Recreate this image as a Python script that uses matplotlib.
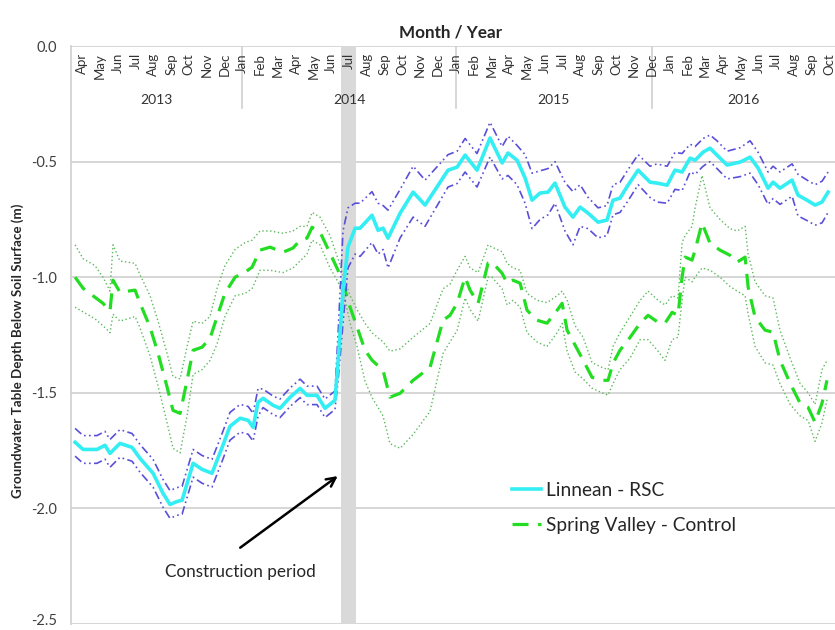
import matplotlib
matplotlib.use("Agg")
from matplotlib import pyplot as plt
from matplotlib.lines import Line2D
from matplotlib.transforms import ScaledTranslation

plt.rcParams['font.family'] = ['Lato', 'DejaVu Sans']

# x = months since Apr 2013 (Apr 2013 = 0), y = depth below soil surface (m)
months = ['Apr', 'May', 'Jun', 'Jul', 'Aug', 'Sep', 'Oct', 'Nov', 'Dec',
          'Jan', 'Feb', 'Mar', 'Apr', 'May', 'Jun', 'Jul', 'Aug', 'Sep', 'Oct', 'Nov', 'Dec',
          'Jan', 'Feb', 'Mar', 'Apr', 'May', 'Jun', 'Jul', 'Aug', 'Sep', 'Oct', 'Nov', 'Dec',
          'Jan', 'Feb', 'Mar', 'Apr', 'May', 'Jun', 'Jul', 'Aug', 'Sep', 'Oct']
years = ['2013', '2014', '2015', '2016']
year_breaks = [9, 21, 32]

# Linnean - RSC
lin_x = [-0.39, 0.06, 0.84, 1.29, 1.57, 2.13, 2.81, 3.26, 3.99, 4.55, 4.94, 5.34, 5.62, 6.24, 6.74,
         7.30, 7.87, 8.31, 8.88, 9.33, 9.61, 9.89, 10.17, 10.73, 11.12, 11.69, 12.25, 12.64, 13.20,
         13.65, 14.21, 14.38, 14.66, 14.94, 15.34, 15.62, 16.29, 16.63, 16.91, 17.19, 17.87, 18.60,
         19.27, 20.56, 21.07, 21.52, 22.19, 22.92, 23.60, 23.93, 24.44, 24.89, 25.28, 25.73, 26.18,
         26.57, 27.13, 27.58, 27.98, 28.43, 28.99, 29.49, 29.83, 30.22, 30.67, 31.24, 31.91, 32.30,
         32.87, 33.31, 33.71, 34.16, 34.44, 34.89, 35.28, 35.67, 36.24, 36.97, 37.53, 37.98, 38.54,
         38.82, 39.21, 39.89, 40.22, 40.73, 41.18, 41.57, 41.91]
lin_mean = [-1.714, -1.745, -1.745, -1.727, -1.762, -1.719, -1.736, -1.784, -1.848, -1.935, -1.983,
            -1.970, -1.965, -1.805, -1.831, -1.848, -1.736, -1.645, -1.610, -1.619, -1.649, -1.541,
            -1.524, -1.554, -1.567, -1.519, -1.481, -1.511, -1.511, -1.567, -1.532, -1.372, -1.056,
            -0.870, -0.788, -0.788, -0.732, -0.797, -0.788, -0.831, -0.723, -0.632, -0.688, -0.537,
            -0.524, -0.472, -0.537, -0.398, -0.506, -0.463, -0.494, -0.571, -0.667, -0.636, -0.632,
            -0.593, -0.697, -0.740, -0.697, -0.723, -0.762, -0.753, -0.667, -0.658, -0.602, -0.537,
            -0.589, -0.593, -0.602, -0.537, -0.545, -0.485, -0.494, -0.459, -0.442, -0.472, -0.515,
            -0.502, -0.481, -0.528, -0.615, -0.589, -0.615, -0.580, -0.645, -0.667, -0.688, -0.675,
            -0.632]
lin_upper = [-1.654, -1.685, -1.685, -1.667, -1.702, -1.659, -1.676, -1.724, -1.788, -1.875, -1.923,
             -1.910, -1.905, -1.745, -1.771, -1.788, -1.676, -1.585, -1.550, -1.559, -1.589, -1.481,
             -1.484, -1.514, -1.527, -1.479, -1.441, -1.471, -1.471, -1.527, -1.492, -1.25, -0.80,
             -0.70, -0.68, -0.68, -0.63, -0.68, -0.69, -0.71, -0.62, -0.52, -0.58, -0.47,
             -0.455, -0.40, -0.465, -0.33, -0.435, -0.39, -0.43, -0.47, -0.55, -0.54, -0.53,
             -0.50, -0.59, -0.63, -0.60, -0.655, -0.70, -0.69, -0.60, -0.59, -0.535, -0.47,
             -0.52, -0.51, -0.52, -0.46, -0.465, -0.425, -0.435, -0.40, -0.385, -0.41, -0.455,
             -0.44, -0.41, -0.46, -0.545, -0.52, -0.545, -0.51, -0.555, -0.58, -0.60, -0.585,
             -0.545]
lin_lower = [-1.774, -1.805, -1.805, -1.787, -1.822, -1.779, -1.796, -1.844, -1.908, -1.995, -2.043,
             -2.030, -2.025, -1.865, -1.891, -1.908, -1.796, -1.705, -1.670, -1.679, -1.709, -1.601,
             -1.564, -1.594, -1.607, -1.559, -1.521, -1.551, -1.551, -1.607, -1.572, -1.45, -1.20,
             -0.96, -0.90, -0.91, -0.85, -0.90, -0.88, -0.96, -0.83, -0.74, -0.78, -0.61,
             -0.595, -0.545, -0.61, -0.48, -0.575, -0.56, -0.60, -0.68, -0.79, -0.75, -0.73,
             -0.68, -0.80, -0.86, -0.78, -0.79, -0.83, -0.82, -0.73, -0.72, -0.67, -0.60,
             -0.655, -0.675, -0.68, -0.62, -0.625, -0.545, -0.555, -0.52, -0.50, -0.53, -0.575,
             -0.565, -0.55, -0.60, -0.685, -0.66, -0.685, -0.65, -0.735, -0.755, -0.775, -0.765,
             -0.72]

# Spring Valley - Control
sv_x = [-0.39, 0.06, 0.73, 1.18, 1.57, 1.74, 2.13, 2.98, 3.26, 3.82, 4.27, 4.78, 5.11, 5.51, 5.90,
        6.24, 6.74, 7.19, 7.58, 8.03, 8.60, 9.16, 9.55, 10.00, 10.56, 11.29, 11.85, 12.25, 12.64,
        12.92, 13.37, 13.93, 14.38, 14.78, 15.06, 15.45, 15.90, 16.29, 16.91, 17.30, 17.87, 18.60,
        19.55, 20.28, 20.67, 21.07, 21.52, 21.80, 22.25, 22.81, 23.03, 23.60, 23.88, 24.21, 24.61,
        25.00, 25.56, 26.12, 26.69, 26.97, 27.25, 27.70, 28.15, 28.65, 29.21, 29.55, 29.83, 30.22,
        30.79, 31.35, 31.80, 32.36, 32.75, 33.15, 33.48, 33.71, 33.88, 34.27, 34.44, 34.83, 35.28,
        35.84, 36.40, 36.80, 37.25, 37.42, 37.81, 38.37, 38.82, 39.21, 39.78, 40.34, 40.79, 41.18,
        41.57, 41.85]
sv_mean = [-1.000, -1.048, -1.087, -1.113, -1.147, -1.013, -1.065, -1.056, -1.113, -1.216, -1.329,
           -1.476, -1.576, -1.589, -1.446, -1.316, -1.303, -1.264, -1.173, -1.069, -1.000, -0.978,
           -0.957, -0.883, -0.870, -0.892, -0.874, -0.840, -0.831, -0.784, -0.805, -0.896, -0.970,
           -1.056, -1.130, -1.216, -1.316, -1.359, -1.403, -1.519, -1.502, -1.446, -1.390, -1.186,
           -1.165, -1.113, -1.000, -1.056, -1.113, -0.939, -0.935, -0.983, -1.026, -1.013, -1.026,
           -1.143, -1.186, -1.199, -1.143, -1.113, -1.229, -1.294, -1.359, -1.433, -1.446, -1.446,
           -1.372, -1.316, -1.260, -1.199, -1.165, -1.195, -1.199, -1.152, -1.165, -1.000, -0.913,
           -0.926, -0.883, -0.766, -0.853, -0.883, -0.905, -0.935, -0.913, -1.043, -1.173, -1.229,
           -1.238, -1.359, -1.459, -1.545, -1.563, -1.628, -1.545, -1.446]
sv_upper = [-0.86, -0.92, -0.95, -1.00, -1.06, -0.86, -0.93, -0.94, -0.99, -1.08, -1.19,
            -1.33, -1.43, -1.44, -1.30, -1.19, -1.20, -1.17, -1.05, -0.95, -0.88, -0.85,
            -0.84, -0.80, -0.80, -0.81, -0.80, -0.78, -0.78, -0.72, -0.74, -0.82, -0.92,
            -1.02, -1.08, -1.14, -1.20, -1.24, -1.28, -1.32, -1.31, -1.26, -1.20, -1.05,
            -1.03, -0.97, -0.91, -0.96, -0.98, -0.86, -0.87, -0.89, -0.94, -0.96, -0.97,
            -1.07, -1.10, -1.11, -1.08, -1.06, -1.10, -1.21, -1.26, -1.37, -1.39, -1.40,
            -1.30, -1.24, -1.17, -1.10, -1.06, -1.10, -1.12, -1.08, -1.09, -0.85, -0.82,
            -0.78, -0.70, -0.56, -0.70, -0.75, -0.79, -0.80, -0.78, -0.90, -1.02, -1.08,
            -1.09, -1.23, -1.35, -1.46, -1.50, -1.55, -1.40, -1.36]
sv_lower = [-1.13, -1.15, -1.18, -1.21, -1.24, -1.16, -1.19, -1.17, -1.22, -1.34, -1.47,
            -1.63, -1.74, -1.76, -1.60, -1.42, -1.40, -1.36, -1.29, -1.17, -1.08, -1.07,
            -1.05, -0.97, -0.97, -0.98, -0.96, -0.93, -0.90, -0.84, -0.86, -0.96, -1.02,
            -1.10, -1.20, -1.30, -1.45, -1.52, -1.60, -1.72, -1.74, -1.68, -1.58, -1.33,
            -1.28, -1.23, -1.09, -1.14, -1.19, -1.00, -1.00, -1.05, -1.12, -1.10, -1.13,
            -1.24, -1.28, -1.30, -1.24, -1.20, -1.32, -1.41, -1.44, -1.48, -1.50, -1.51,
            -1.46, -1.40, -1.35, -1.27, -1.27, -1.32, -1.36, -1.27, -1.26, -1.10, -1.00,
            -1.02, -1.00, -0.96, -0.97, -1.00, -1.04, -1.06, -1.08, -1.16, -1.30, -1.37,
            -1.38, -1.46, -1.55, -1.60, -1.62, -1.71, -1.63, -1.53]

construction = (14.55, 15.39)

fig = plt.figure(figsize=(8.35, 6.30), dpi=100)
ax = fig.add_axes([71 / 835, 6 / 630, 764 / 835, 578 / 630])
ax.set_xlim(-0.62, 42.3)
ax.set_ylim(-2.5, 0.0)

# grid + construction band
for v in [0.0, -0.5, -1.0, -1.5, -2.0, -2.5]:
    ax.axhline(v, color='#cfcfcf', lw=1.2, zorder=1)
ax.axvspan(construction[0], construction[1], color='#d9d9d9', lw=0, zorder=1.5)

# series
ax.plot(sv_x, sv_upper, color='#5cb85c', lw=1.0, ls=(0, (1, 1.8)), zorder=2)
ax.plot(sv_x, sv_lower, color='#5cb85c', lw=1.0, ls=(0, (1, 1.8)), zorder=2)
ax.plot(sv_x, sv_mean, color='#22dd22', lw=2.3, ls=(0, (5, 3)), zorder=3)
ax.plot(lin_x, lin_upper, color='#5a4fd8', lw=1.2, ls=(0, (5, 2, 1, 2, 1, 2)), zorder=4)
ax.plot(lin_x, lin_lower, color='#5a4fd8', lw=1.2, ls=(0, (5, 2, 1, 2, 1, 2)), zorder=4)
ax.plot(lin_x, lin_mean, color='#33eef2', lw=2.6, zorder=5)

# spines / ticks
for s in ['top', 'right', 'bottom']:
    ax.spines[s].set_visible(False)
ax.spines['left'].set_color('#cfcfcf')
ax.spines['left'].set_linewidth(1.2)
ax.set_xticks([])
ax.set_yticks([0.0, -0.5, -1.0, -1.5, -2.0, -2.5])
ax.set_yticklabels(['0.0', '-0.5', '-1.0', '-1.5', '-2.0', '-2.5'])
ax.tick_params(axis='y', length=0, pad=10, labelsize=10.5, labelcolor='#404040')
# keep the bottom label inside the figure
bottom_lbl = ax.get_yticklabels()[-1]
bottom_lbl.set_transform(bottom_lbl.get_transform() + ScaledTranslation(0, 3 / 72, fig.dpi_scale_trans))

# month / year header inside the plot
for i, m in enumerate(months):
    ax.text(i, -0.03, m, rotation=90, ha='center', va='top', fontsize=9.5, color='#333333')
edges = [ax.get_xlim()[0]] + year_breaks + [ax.get_xlim()[1]]
for b in year_breaks:
    ax.plot([b, b], [0.0, -0.268], color='#cfcfcf', lw=1.2, zorder=1)
for k, yr in enumerate(years):
    ax.text((edges[k] + edges[k + 1]) / 2, -0.234, yr, ha='center', va='center', fontsize=10,
            color='#333333')

fig.text(451 / 835, 1 - 32 / 630, 'Month / Year', ha='center', va='center', fontsize=12.3,
         fontweight='bold', color='#262626')
fig.text(18 / 835, 1 - 351 / 630, 'Groundwater Table Depth Below Soil Surface (m)', rotation=90,
         ha='center', va='center', fontsize=9.6, fontweight='bold', color='#262626')

ax.annotate('', xy=(14.49, -1.853), xytext=(8.76, -2.177),
            arrowprops=dict(arrowstyle='->', color='black', lw=1.8, mutation_scale=16), zorder=6)
ax.text(8.88, -2.273, 'Construction period', ha='center', va='center', fontsize=12.3,
        color='#262626')

handles = [Line2D([], [], color='#33eef2', lw=2.6),
           Line2D([], [], color='#22dd22', lw=2.3, ls=(0, (5, 3)))]
fig.legend(handles, ['Linnean - RSC', 'Spring Valley - Control'], loc='center left',
           bbox_to_anchor=(512 / 835, 1 - 508 / 630), frameon=False, fontsize=13.8,
           handlelength=1.5, handletextpad=0.3, labelspacing=0.95, borderpad=0,
           borderaxespad=0, labelcolor='#262626')

plt.savefig('out.png', dpi=100)
